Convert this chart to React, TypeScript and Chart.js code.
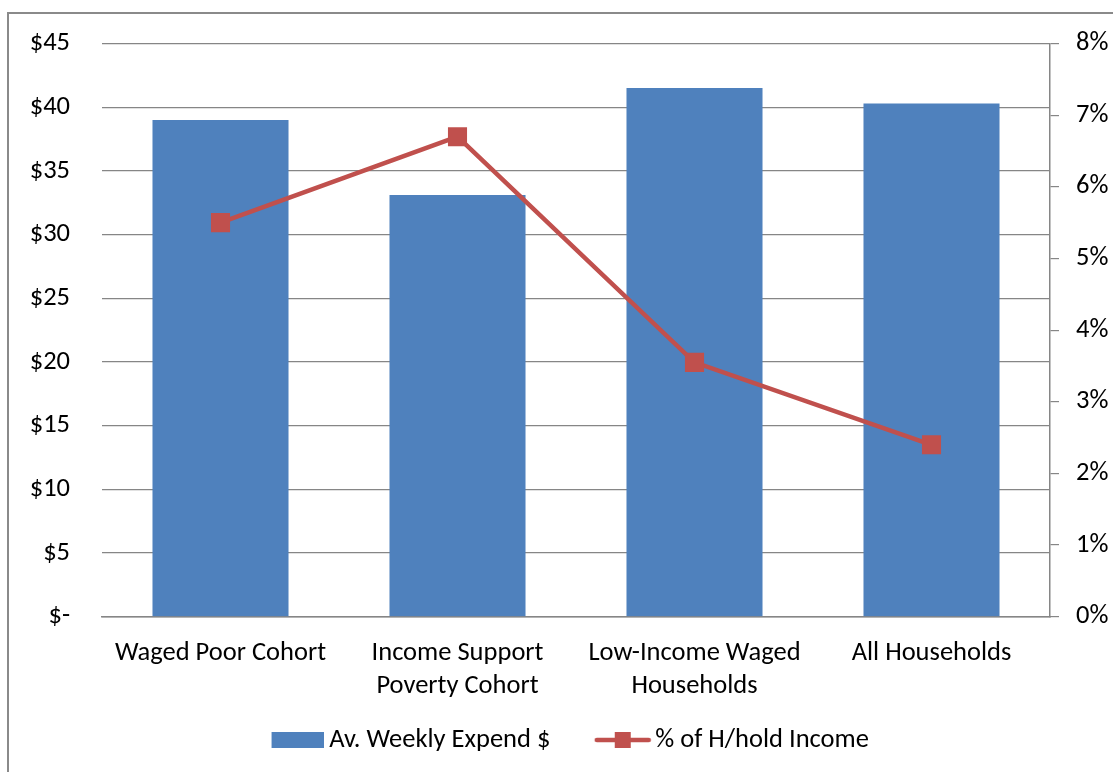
import React, { useEffect, useRef } from 'react';
import { Chart, registerables } from 'chart.js';

Chart.register(...registerables);

const categories: string[][] = [
  ['Waged Poor Cohort'],
  ['Income Support', 'Poverty Cohort'],
  ['Low-Income Waged', 'Households'],
  ['All Households'],
];
const weeklyExpend: number[] = [39.0, 33.1, 41.5, 40.3];
const pctOfIncome: number[] = [5.5, 6.7, 3.55, 2.4];
const seriesNames: string[] = ['Av. Weekly Expend $', '% of H/hold Income'];

const BAR_COLOR = '#4F81BD';
const LINE_COLOR = '#C0504D';
const GRID_COLOR = '#868686';
const FONT = 'Carlito, Lato, "Liberation Sans", sans-serif';
const FS = 26.5;

// legend swatches: transparent padding on the left, mark on the right
function makeBarSwatch(): HTMLCanvasElement {
  const c = document.createElement('canvas');
  c.width = 84;
  c.height = 16;
  const ctx = c.getContext('2d')!;
  ctx.fillStyle = BAR_COLOR;
  ctx.fillRect(84 - 52, 0, 52, 16);
  return c;
}

function makeLineSwatch(): HTMLCanvasElement {
  const c = document.createElement('canvas');
  c.width = 88;
  c.height = 18;
  const ctx = c.getContext('2d')!;
  const x0 = 88 - 58;
  ctx.strokeStyle = LINE_COLOR;
  ctx.lineWidth = 4.5;
  ctx.lineCap = 'round';
  ctx.beginPath();
  ctx.moveTo(x0 + 3, 9);
  ctx.lineTo(x0 + 55, 9);
  ctx.stroke();
  ctx.fillStyle = LINE_COLOR;
  ctx.fillRect(x0 + 21, 1, 16, 16);
  return c;
}

export default function App() {
  const ref = useRef<HTMLCanvasElement | null>(null);

  useEffect(() => {
    if (!ref.current) return;
    const barSwatch = makeBarSwatch();
    const lineSwatch = makeLineSwatch();
    const chart = new Chart(ref.current, {
      type: 'bar',
      data: {
        labels: categories,
        datasets: [
          {
            type: 'bar',
            label: seriesNames[0],
            data: weeklyExpend,
            backgroundColor: BAR_COLOR,
            borderWidth: 0,
            yAxisID: 'y',
            order: 2,
            barPercentage: 0.574,
            categoryPercentage: 1,
          },
          {
            type: 'line',
            label: seriesNames[1],
            data: pctOfIncome,
            borderColor: LINE_COLOR,
            backgroundColor: LINE_COLOR,
            borderWidth: 4.5,
            pointStyle: 'rect',
            pointRadius: 13.5,
            pointBorderWidth: 0,
            pointBackgroundColor: LINE_COLOR,
            tension: 0,
            yAxisID: 'y1',
            order: 1,
          } as any,
        ],
      },
      options: {
        responsive: false,
        animation: false,
        devicePixelRatio: 1,
        layout: { padding: { left: 3, right: 0, top: 38.5, bottom: 8.75 } },
        plugins: {
          tooltip: { enabled: false },
          legend: {
            position: 'bottom',
            labels: {
              usePointStyle: true,
              pointStyleWidth: 68.75,
              padding: 23,
              color: '#000',
              font: { family: FONT, size: FS },
              generateLabels: () => [
                {
                  text: seriesNames[0],
                  pointStyle: barSwatch as any,
                  fillStyle: BAR_COLOR,
                  strokeStyle: BAR_COLOR,
                  lineWidth: 0,
                  hidden: false,
                  datasetIndex: 0,
                  fontColor: '#000',
                },
                {
                  text: seriesNames[1],
                  pointStyle: lineSwatch as any,
                  fillStyle: LINE_COLOR,
                  strokeStyle: LINE_COLOR,
                  lineWidth: 0,
                  hidden: false,
                  datasetIndex: 1,
                  fontColor: '#000',
                },
              ],
            },
          },
        },
        scales: {
          x: {
            grid: { display: false, drawTicks: false },
            border: { display: true, color: GRID_COLOR, width: 1.5 },
            ticks: {
              color: '#000',
              font: { family: FONT, size: FS, lineHeight: 1.245 },
              padding: 20.5,
              maxRotation: 0,
              autoSkip: false,
            },
            afterFit: (s: any) => {
              s.height = 87;
            },
          },
          y: {
            position: 'left',
            min: 0,
            max: 45,
            grid: { color: GRID_COLOR, lineWidth: 1.2, drawTicks: false },
            border: { display: false },
            ticks: {
              stepSize: 5,
              color: '#000',
              padding: 32,
              font: { family: FONT, size: FS, lineHeight: 0.87 },
              callback: (v: any) => (Number(v) === 0 ? '$-' : '$' + v),
            },
            afterFit: (s: any) => {
              s.width = 99;
            },
          },
          y1: {
            position: 'right',
            min: 0,
            max: 8,
            grid: {
              drawOnChartArea: false,
              drawTicks: true,
              tickLength: 9,
              color: GRID_COLOR,
              lineWidth: 1.2,
            },
            border: { display: true, color: GRID_COLOR, width: 1.5 },
            ticks: {
              stepSize: 1,
              color: '#000',
              padding: 17,
              font: { family: FONT, size: FS, lineHeight: 0.87 },
              callback: (v: any) => Math.round(Number(v)) + '%',
            },
            afterFit: (s: any) => {
              s.width = 63;
            },
          },
        },
      },
    });
    return () => chart.destroy();
  }, []);

  return (
    <div
      style={{
        position: 'fixed',
        left: 0,
        top: 0,
        width: 1113,
        height: 772,
        overflow: 'hidden',
        background: '#fff',
      }}
    >
      <div
        style={{
          position: 'absolute',
          left: 7,
          top: 12,
          width: 1200,
          height: 900,
          border: '2px solid #8a8a8a',
          boxSizing: 'border-box',
        }}
      />
      <canvas
        ref={ref}
        width={1113}
        height={772}
        style={{ position: 'absolute', left: 0, top: 0, width: 1113, height: 772 }}
      />
    </div>
  );
}
